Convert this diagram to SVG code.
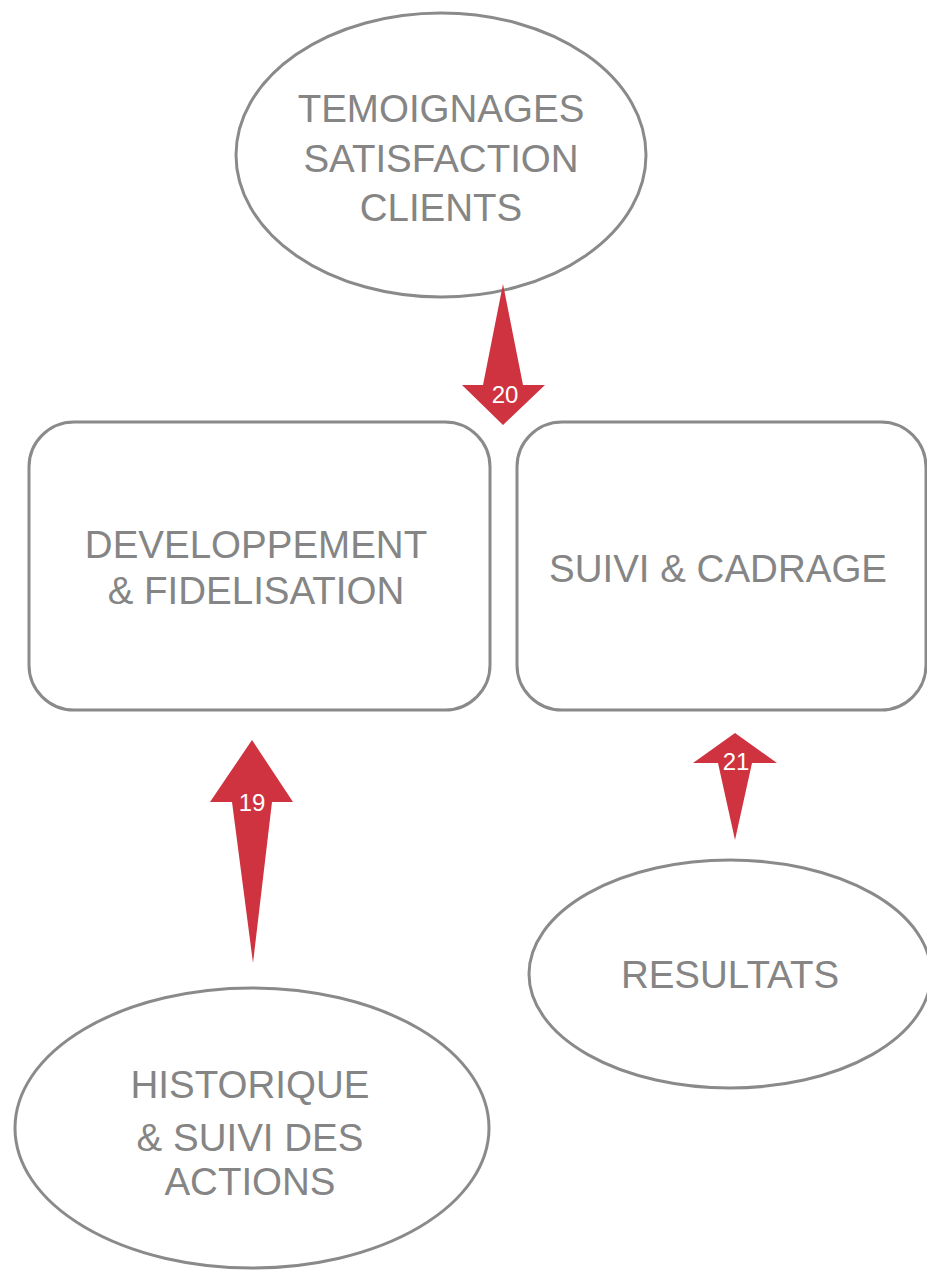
<svg xmlns="http://www.w3.org/2000/svg" width="927" height="1273" viewBox="0 0 927 1273">
<style>
.shape{fill:#fff;stroke:#8a8a8a;stroke-width:3}
.lbl{font-family:"Liberation Sans",Arial,sans-serif;font-size:38.5px;fill:#858585;text-anchor:middle}
.arrow{fill:#cf3340}
.num{font-family:"Liberation Sans",Arial,sans-serif;font-size:24px;fill:#fff;text-anchor:middle}
</style>
<rect width="927" height="1273" fill="#fff"/>
<g id="n-temoignages">
<ellipse class="shape" cx="441" cy="155" rx="205" ry="142"/>
<text class="lbl" x="441" y="122">TEMOIGNAGES</text>
<text class="lbl" x="441" y="172">SATISFACTION</text>
<text class="lbl" x="441" y="221">CLIENTS</text>
</g>
<g id="n-developpement">
<rect class="shape" x="29" y="422" width="461" height="288" rx="45"/>
<text class="lbl" x="256" y="558">DEVELOPPEMENT</text>
<text class="lbl" x="256" y="604">&amp; FIDELISATION</text>
</g>
<g id="n-suivi">
<rect class="shape" x="517" y="422" width="409" height="288" rx="45"/>
<text class="lbl" x="718" y="582">SUIVI &amp; CADRAGE</text>
</g>
<g id="n-resultats">
<ellipse class="shape" cx="730" cy="974" rx="201" ry="114"/>
<text class="lbl" x="730" y="988">RESULTATS</text>
</g>
<g id="n-historique">
<ellipse class="shape" cx="252" cy="1128" rx="237" ry="140"/>
<text class="lbl" x="250" y="1098">HISTORIQUE</text>
<text class="lbl" x="250" y="1151">&amp; SUIVI DES</text>
<text class="lbl" x="250" y="1195">ACTIONS</text>
</g>
<g id="connectors">
<g id="c20">
<polygon class="arrow" points="503,284 523,385 545,385 503,425 462,385 483,385"/>
<text class="num" x="505" y="403">20</text>
</g>
<g id="c19">
<polygon class="arrow" points="252,740 293,802 272,802 253,963 232,802 210,802"/>
<text class="num" x="252" y="811">19</text>
</g>
<g id="c21">
<polygon class="arrow" points="735,733 777,763 752,763 735,840 718,763 693,763"/>
<text class="num" x="736" y="770">21</text>
</g>
</g>
</svg>
